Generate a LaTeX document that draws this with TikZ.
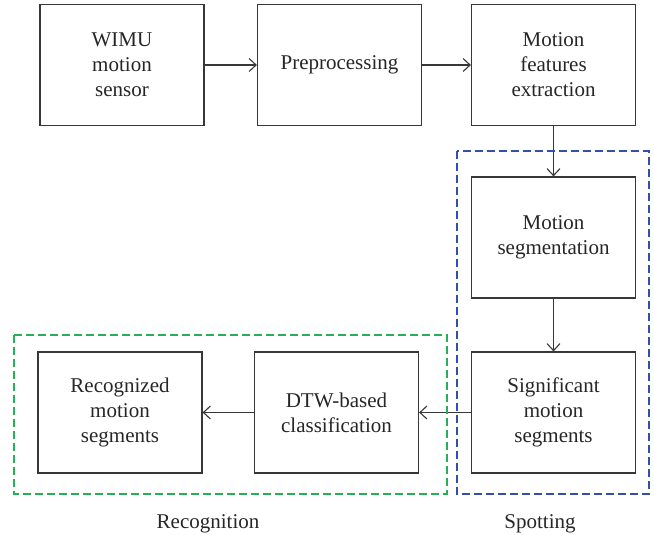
\documentclass[tikz,border=0pt]{standalone}
\usepackage{fontspec}
\setmainfont{Liberation Serif}
\usetikzlibrary{arrows.meta}
\definecolor{linegray}{RGB}{55,55,55}
\definecolor{spotblue}{RGB}{50,80,170}
\definecolor{recgreen}{RGB}{40,175,85}
\tikzset{
  stepbox/.style={draw=linegray, line width=1.2pt, minimum width=164pt, minimum height=121pt,
    inner sep=0pt, align=center, font=\fontsize{21}{25}\selectfont, text=black!85},
  flow/.style={draw=linegray, line width=1.1pt, -{Straight Barb[length=7pt,width=13pt]}},
  groupbox/.style={dash pattern=on 8pt off 4pt, line width=1.4pt},
  grouplabel/.style={font=\fontsize{21}{25}\selectfont, text=black!85}
}
\begin{document}
\begin{tikzpicture}[x=1pt,y=-1pt]
\useasboundingbox (0,0) rectangle (654,535);
\node[stepbox] (wimu) at (122,65) {WIMU\\motion\\sensor};
\node[stepbox] (pre) at (339.5,65) {Preprocessing};
\node[stepbox] (mfe) at (553.5,65) {Motion\\features\\extraction};
\node[stepbox] (mseg) at (553.5,237.5) {Motion\\segmentation};
\node[stepbox] (sig) at (553.5,412.5) {Significant\\motion\\segments};
\node[stepbox] (dtw) at (336.5,412.5) {DTW-based\\classification};
\node[stepbox] (rec) at (120,412.5) {Recognized\\motion\\segments};
\draw[flow] (wimu) -- (pre);
\draw[flow] (pre) -- (mfe);
\draw[flow] (mfe) -- (mseg);
\draw[flow] (mseg) -- (sig);
\draw[flow] (sig) -- (dtw);
\draw[flow] (dtw) -- (rec);
\draw[groupbox, draw=spotblue] (457,151) rectangle (649,494);
\draw[groupbox, draw=recgreen] (14,335) rectangle (447,494);
\node[grouplabel] (reclab) at (208,524) {Recognition};
\node[grouplabel] (spotlab) at (540,524) {Spotting};
\end{tikzpicture}
\end{document}
